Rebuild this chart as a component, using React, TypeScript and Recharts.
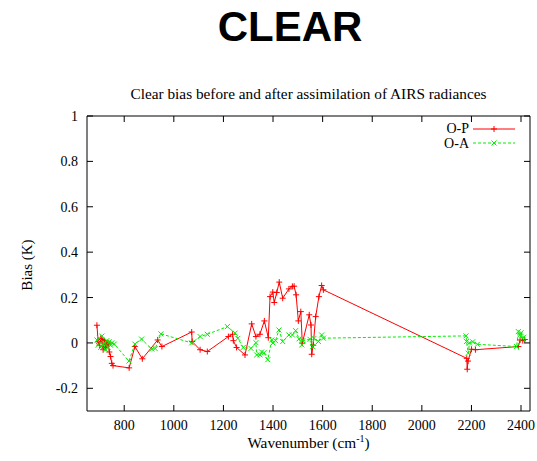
import { Line, LineChart, ReferenceArea, XAxis, YAxis } from "recharts";

// wavenumber (cm-1) and bias (K)
const opWave = [
  690, 695, 700, 705, 710, 715, 720, 725, 730, 735, 740, 745, 750, 755, 820, 843, 873, 935, 952,
  1072, 1074, 1106, 1135, 1220, 1237, 1240, 1253, 1287, 1314, 1331, 1347, 1365, 1381, 1388, 1399,
  1405, 1415, 1425, 1439, 1464, 1478, 1485, 1493, 1502, 1512, 1518, 1546, 1553, 1556, 1562, 1572,
  1585, 1596, 1603, 2181, 2183, 2186, 2200, 2216, 2389, 2396, 2407, 2415,
];
const opBias = [
  0.078, 0.005, -0.01, 0.02, 0.015, -0.03, 0.01, -0.02, -0.005, 0.0, -0.04, -0.06, -0.09, -0.1,
  -0.11, -0.016, -0.07, 0.013, -0.016, 0.048, 0.006, -0.03, -0.038, 0.028, 0.038, 0.01, -0.02,
  -0.053, 0.084, 0.028, 0.038, 0.097, 0.023, 0.204, 0.224, 0.178, 0.222, 0.268, 0.197, 0.238,
  0.249, 0.25, 0.212, 0.097, 0.138, -0.001, 0.124, 0.079, -0.05, -0.01, 0.116, 0.204, 0.253,
  0.234, -0.068, -0.116, -0.08, -0.028, -0.03, -0.016, 0.013, 0.01, 0.015,
];
const oaWave = [
  690, 695, 700, 705, 710, 715, 720, 725, 730, 735, 740, 745, 750, 760, 819, 843, 870, 911, 925,
  948, 1072, 1106, 1135, 1216, 1247, 1258, 1280, 1311, 1331, 1334, 1347, 1354, 1364, 1379, 1395,
  1400, 1410, 1424, 1439, 1464, 1478, 1491, 1505, 1516, 1520, 1549, 1560, 1565, 1583, 1596, 1603,
  2178, 2180, 2187, 2192, 2205, 2224, 2382, 2389, 2395, 2400, 2405, 2410,
];
const oaBias = [
  0.013, -0.01, 0.02, -0.02, 0.03, -0.01, 0.0, -0.03, 0.01, -0.02, 0.005, -0.01, 0.0, -0.005,
  -0.08, -0.005, 0.017, -0.027, -0.025, 0.04, 0.0, 0.028, 0.038, 0.072, 0.043, 0.02, -0.02,
  -0.024, 0.001, -0.053, -0.053, -0.04, -0.043, -0.074, 0.013, 0.0, 0.01, 0.057, 0.006, 0.035,
  0.035, 0.054, 0.018, -0.009, 0.01, 0.016, -0.016, 0.02, 0.006, 0.035, 0.021, 0.031, 0.006,
  -0.045, 0.0, 0.005, -0.006, -0.016, 0.05, 0.035, 0.045, 0.02, 0.025,
];
const xTicks = [800, 1000, 1200, 1400, 1600, 1800, 2000, 2200, 2400];
const yTicks = [-0.2, 0, 0.2, 0.4, 0.6, 0.8, 1];
const seriesNames = ["O-P", "O-A"];

const opData = opWave.map((x, i) => ({ x, y: opBias[i] }));
const oaData = oaWave.map((x, i) => ({ x, y: oaBias[i] }));

const RED = "#ff0000";
const GREEN = "#00ee00";
const SERIF = "'Liberation Serif', 'Times New Roman', serif";
const TOP = 116;
const BOTTOM = 411;
const LEFT = 87;
const RIGHT = 530;

function Plus({ cx, cy, color }: any) {
  if (cx == null || cy == null) return null;
  return (
    <g stroke={color} strokeWidth={1}>
      <line x1={cx - 3} y1={cy} x2={cx + 3} y2={cy} />
      <line x1={cx} y1={cy - 3} x2={cx} y2={cy + 3} />
    </g>
  );
}

function Cross({ cx, cy, color }: any) {
  if (cx == null || cy == null) return null;
  return (
    <g stroke={color} strokeWidth={1}>
      <line x1={cx - 2.5} y1={cy - 2.5} x2={cx + 2.5} y2={cy + 2.5} />
      <line x1={cx - 2.5} y1={cy + 2.5} x2={cx + 2.5} y2={cy - 2.5} />
    </g>
  );
}

function XTick({ x, payload }: any) {
  return (
    <g>
      <line x1={x} y1={BOTTOM} x2={x} y2={BOTTOM - 6} stroke="#000" />
      <line x1={x} y1={TOP} x2={x} y2={TOP + 6} stroke="#000" />
      <text x={x} y={430} textAnchor="middle" fontFamily={SERIF} fontSize={14} fill="#000">
        {payload.value}
      </text>
    </g>
  );
}

function YTick({ y, payload }: any) {
  return (
    <g>
      <line x1={LEFT} y1={y} x2={LEFT + 6} y2={y} stroke="#000" />
      <line x1={RIGHT} y1={y} x2={RIGHT - 6} y2={y} stroke="#000" />
      <text x={78} y={y + 5} textAnchor="end" fontFamily={SERIF} fontSize={14} fill="#000">
        {String(Math.round(payload.value * 10) / 10)}
      </text>
    </g>
  );
}

function LegendBox() {
  return (
    <svg
      width={100}
      height={34}
      style={{ position: "absolute", left: 420, top: 121, overflow: "visible" }}
    >
      <g fontFamily={SERIF} fontSize={14} fill="#000">
        <text x={49} y={12} textAnchor="end">{seriesNames[0]}</text>
        <text x={49} y={27} textAnchor="end">{seriesNames[1]}</text>
      </g>
      <line x1={53} y1={8} x2={95} y2={8} stroke={RED} />
      <Plus cx={74} cy={8} color={RED} />
      <line x1={53} y1={22} x2={95} y2={22} stroke={GREEN} strokeDasharray="3 2" />
      <Cross cx={74} cy={22} color={GREEN} />
    </svg>
  );
}

export default function App() {
  return (
    <div style={{ position: "absolute", left: 0, top: 0, width: 537, height: 461, background: "#fff" }}>
      <div
        style={{
          position: "absolute", left: 0, top: 3, width: 580, textAlign: "center",
          fontFamily: "'Liberation Sans', Arial, sans-serif", fontWeight: "bold", fontSize: 42,
        }}
      >
        CLEAR
      </div>
      <div
        style={{
          position: "absolute", left: 0, top: 85, width: 617, textAlign: "center",
          fontFamily: SERIF, fontSize: 15.3, whiteSpace: "nowrap",
        }}
      >
        Clear bias before and after assimilation of AIRS radiances
      </div>
      <div
        style={{
          position: "absolute", left: 27, top: 265, transform: "translate(-50%, -50%) rotate(-90deg)",
          fontFamily: SERIF, fontSize: 15, whiteSpace: "nowrap",
        }}
      >
        Bias (K)
      </div>
      <div
        style={{
          position: "absolute", left: 0, top: 433, width: 617, textAlign: "center",
          fontFamily: SERIF, fontSize: 15.3, whiteSpace: "nowrap",
        }}
      >
        Wavenumber (cm<sup style={{ fontSize: 10 }}>-1</sup>)
      </div>
      <LineChart
        width={537}
        height={461}
        margin={{ top: TOP, right: 537 - RIGHT, bottom: 0, left: 0 }}
        style={{ position: "absolute", left: 0, top: 0 }}
      >
        <XAxis
          type="number"
          dataKey="x"
          domain={[650, 2436]}
          ticks={xTicks}
          height={461 - BOTTOM}
          tick={<XTick />}
          tickLine={false}
          axisLine={false}
          allowDataOverflow
        />
        <YAxis
          type="number"
          dataKey="y"
          domain={[-0.3, 1]}
          ticks={yTicks}
          width={LEFT}
          tick={<YTick />}
          tickLine={false}
          axisLine={false}
          allowDataOverflow
        />
        <ReferenceArea x1={650} x2={2436} y1={-0.3} y2={1} fill="none" stroke="#000" strokeWidth={1} />
        <Line
          data={opData}
          dataKey="y"
          name={seriesNames[0]}
          type="linear"
          stroke={RED}
          strokeWidth={1}
          dot={(p: any) => <Plus key={p.index} cx={p.cx} cy={p.cy} color={RED} />}
          activeDot={false}
          isAnimationActive={false}
        />
        <Line
          data={oaData}
          dataKey="y"
          name={seriesNames[1]}
          type="linear"
          stroke={GREEN}
          strokeWidth={1}
          strokeDasharray="3 2"
          dot={(p: any) => <Cross key={p.index} cx={p.cx} cy={p.cy} color={GREEN} />}
          activeDot={false}
          isAnimationActive={false}
        />
      </LineChart>
      <LegendBox />
    </div>
  );
}
